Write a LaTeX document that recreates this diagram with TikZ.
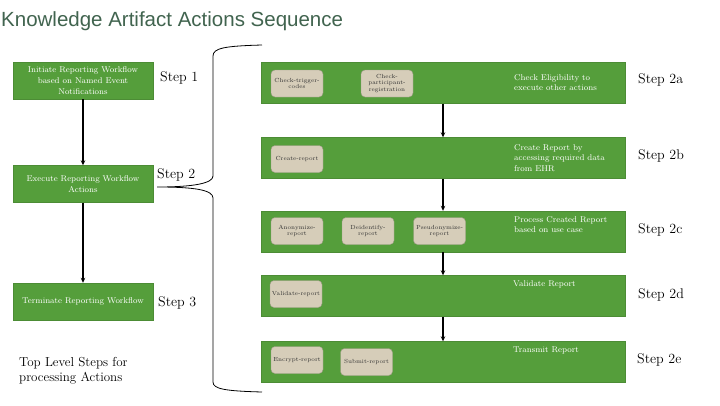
\documentclass[tikz,border=0pt]{standalone}
\usepackage{fontspec}
\usepackage{tikz}
\usetikzlibrary{arrows.meta}
\newfontfamily\titlefont{Liberation Sans}
\definecolor{boxgreen}{HTML}{559E3B}
\definecolor{boxedge}{HTML}{4C8C35}
\definecolor{chipfill}{HTML}{D6CDB9}
\definecolor{chipedge}{HTML}{9C9A84}
\definecolor{titlegreen}{HTML}{41644F}

\begin{document}
\begin{tikzpicture}[x=1pt,y=-1pt,
  leftbox/.style={draw=boxedge,fill=boxgreen,text=white,align=center,
    minimum width=140pt,minimum height=37pt,inner sep=1pt,
    font=\fontsize{8.4}{10.8}\selectfont},
  rowbox/.style={draw=boxedge,fill=boxgreen,minimum width=364pt,
    minimum height=41pt,inner sep=0pt},
  rowtext/.style={anchor=north west,text=white,align=left,inner sep=0pt,
    font=\fontsize{8.4}{10.5}\selectfont},
  chip/.style={draw=chipedge,fill=chipfill,rounded corners=4pt,align=center,
    minimum width=52pt,minimum height=27pt,inner sep=1pt,text=black!80,
    font=\fontsize{5.9}{6.8}\selectfont},
  steplbl/.style={anchor=west,inner sep=0pt,font=\fontsize{14}{16}\selectfont},
  flowarrow/.style={-{Stealth[length=5pt,width=4.5pt]},line width=1.3pt}]
  \useasboundingbox[fill=white] (0,0) rectangle (720,405);

  % title
  \node[anchor=west,inner sep=0pt,text=titlegreen,font=\titlefont\fontsize{20.5}{24}\selectfont]
    (title) at (1,21) {Knowledge Artifact Actions Sequence};

  % top level steps
  \node[leftbox] (init) at (83,80.5) {Initiate Reporting Workflow\\based on Named Event\\Notifications};
  \node[leftbox] (exec) at (83,184) {Execute Reporting Workflow\\Actions};
  \node[leftbox] (term) at (83,301.5) {Terminate Reporting Workflow};
  \draw[flowarrow] (init) -- (exec);
  \draw[flowarrow] (exec) -- (term);

  \node[steplbl] (s1) at (160,78) {Step 1};
  \node[steplbl] (s2) at (157,175) {Step 2};
  \node[steplbl] (s3) at (158,303) {Step 3};

  \node[anchor=north west,align=left,inner sep=0pt,font=\fontsize{13}{15.5}\selectfont]
    (note) at (19,357) {Top Level Steps for\\processing Actions};

  % brace
  \coordinate (tip) at (157,187);
  \draw[line width=0.8pt]
    (262,45) .. controls (225,46) and (213,48) .. (213,56) -- (213,176)
    .. controls (213,183) and (195,187) .. (tip)
    (tip) .. controls (195,187) and (213,190) .. (213,198) -- (213,382)
    .. controls (213,389) and (225,391) .. (262,392);

  % action rows
  \node[rowbox] (r2a) at (443,83) {};
  \node[rowbox] (r2b) at (443,158) {};
  \node[rowbox] (r2c) at (443,231.5) {};
  \node[rowbox] (r2d) at (443,296) {};
  \node[rowbox] (r2e) at (443,362) {};
  \foreach \a/\b in {r2a/r2b,r2b/r2c,r2c/r2d,r2d/r2e}
    \draw[flowarrow] (\a) -- (\b);

  \node[rowtext] (t2a) at (514,74) {Check Eligibility to\\execute other actions};
  \node[rowtext] (t2b) at (514,144) {Create Report by\\accessing required data\\from EHR};
  \node[rowtext] (t2c) at (514,216) {Process Created Report\\based on use case};
  \node[rowtext] (t2d) at (513,280) {Validate Report};
  \node[rowtext] (t2e) at (513,347) {Transmit Report};

  \node[chip] (ctc) at (297,83.5) {Check-trigger-\\codes};
  \node[chip] (cpr) at (387,83.5) {Check-\\participant-\\registration};
  \node[chip] (crt) at (297,159) {Create-report};
  \node[chip] (anon) at (297,231) {Anonymize-\\report};
  \node[chip] (deid) at (368,231) {Deidentify-\\report};
  \node[chip] (pseu) at (439.5,231) {Pseudonymize-\\report};
  \node[chip] (vald) at (296,294) {Validate-report};
  \node[chip] (encr) at (297,360) {Encrypt-report};
  \node[chip] (subm) at (366.5,362) {Submit-report};

  \node[steplbl] (s2a) at (638,80) {Step 2a};
  \node[steplbl] (s2b) at (638,156) {Step 2b};
  \node[steplbl] (s2c) at (638,230) {Step 2c};
  \node[steplbl] (s2d) at (638,295) {Step 2d};
  \node[steplbl] (s2e) at (637,360) {Step 2e};
\end{tikzpicture}
\end{document}
